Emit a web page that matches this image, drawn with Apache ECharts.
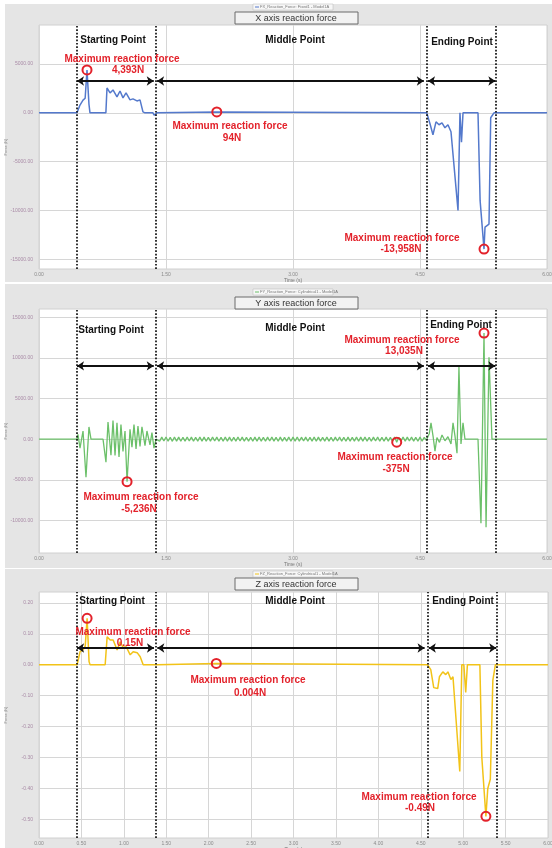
<!DOCTYPE html>
<html>
<head>
<meta charset="utf-8">
<script src="https://cdn.jsdelivr.net/npm/echarts/dist/echarts.min.js"></script>
<style>
html, body { margin: 0; padding: 0; background: #fff; }
#chart { width: 552px; height: 848px; }
</style>
</head>
<body>
<div id="chart"></div>
<script>
// X axis reaction force (N)
var xTime  = [0, 0.449, 0.484, 0.52, 0.545, 0.567, 0.59, 0.602, 0.79, 0.803, 0.839, 0.874, 0.921, 0.957, 0.992, 1.028, 1.075, 1.11, 1.157, 1.193, 1.228, 1.252, 1.346, 1.36, 1.394, 2.1, 4.58, 4.618, 4.653, 4.689, 4.724, 4.76, 4.795, 4.83, 4.866, 4.949, 4.972, 4.99, 5.008, 5.031, 5.185, 5.21, 5.256, 5.268, 5.315, 5.335, 5.374, 6.0];
var xForce = [0, 0, 800, 1300, 1500, 4393, 900, 0, 0, 2550, 2040, 2350, 1630, 2240, 1530, 2040, 1330, 1430, 1220, 1330, 100, 0, 0, -250, 0, 94, 0, -1120, -2240, -920, -1220, -1020, -1530, -1220, -1940, -10000, 0, -3000, 0, 0, 0, -9000, -13958, -11700, -11400, -500, 0, 0];

// Y axis reaction force (N): starting part, middle ripple, ending part
var yStartTime  = [0, 0.449, 0.46, 0.484, 0.52, 0.555, 0.59, 0.614, 0.756, 0.791, 0.815, 0.85, 0.874, 0.898, 0.921, 0.945, 0.968, 0.992, 1.016, 1.04, 1.075, 1.098, 1.122, 1.146, 1.169, 1.193, 1.216, 1.252, 1.275, 1.311, 1.334, 1.358, 1.382];
var yStartForce = [0, 0, 600, -1100, 1000, -4670, 1500, 0, 0, -2830, 2100, -1970, 2300, -2000, 2000, -2200, 1800, -1500, 1000, -5236, 1200, -1000, 1800, -1200, 1600, -900, 1500, -800, 1000, -700, 800, -1100, 0];
var yMidTime = [
  1.400,1.425,1.450,1.475,1.500,1.525,1.550,1.575,1.600,1.625,
  1.650,1.675,1.700,1.725,1.750,1.775,1.800,1.825,1.850,1.875,
  1.900,1.925,1.950,1.975,2.000,2.025,2.050,2.075,2.100,2.125,
  2.150,2.175,2.200,2.225,2.250,2.275,2.300,2.325,2.350,2.375,
  2.400,2.425,2.450,2.475,2.500,2.525,2.550,2.575,2.600,2.625,
  2.650,2.675,2.700,2.725,2.750,2.775,2.800,2.825,2.850,2.875,
  2.900,2.925,2.950,2.975,3.000,3.025,3.050,3.075,3.100,3.125,
  3.150,3.175,3.200,3.225,3.250,3.275,3.300,3.325,3.350,3.375,
  3.400,3.425,3.450,3.475,3.500,3.525,3.550,3.575,3.600,3.625,
  3.650,3.675,3.700,3.725,3.750,3.775,3.800,3.825,3.850,3.875,
  3.900,3.925,3.950,3.975,4.000,4.025,4.050,4.075,4.100,4.125,
  4.150,4.175,4.200,4.225,4.250,4.275,4.300,4.325,4.350,4.375,
  4.400,4.425,4.450,4.475,4.500,4.525,4.550,4.575
];
var yMidForce = [
  240,-260,250,-230,270,-250,230,-270,260,-240,
  250,-260,240,-250,270,-230,250,-260,230,-250,
  260,-240,250,-270,240,-250,260,-230,250,-260,
  230,-250,270,-240,250,-260,240,-250,260,-230,
  250,-270,240,-250,230,-260,250,-240,270,-250,
  240,-260,250,-230,260,-250,240,-270,250,-240,
  230,-250,260,-260,250,-240,270,-250,240,-230,
  250,-260,240,-250,260,-270,250,-240,230,-250,
  260,-250,240,-260,250,-230,270,-250,240,-260,
  250,-240,230,-250,260,-270,250,-240,260,-250,
  240,-260,250,-230,270,-250,240,-260,250,-240,
  230,-260,250,-375,240,-250,260,-240,250,-230,
  260,-250,240,-260,250,-240,230,-150
];
var yEndTime  = [4.582, 4.61, 4.63, 4.655, 4.677, 4.70, 4.73, 4.76, 4.795, 4.83, 4.866, 4.89, 4.913, 4.937, 4.96, 4.984, 5.008, 5.031, 5.185, 5.22, 5.256, 5.28, 5.315, 5.35, 6.0];
var yEndForce = [0, 700, 2000, 300, -1480, 200, -400, 500, -200, 300, -600, 2000, 400, -1720, 8860, -600, 2000, 0, 0, -10330, 13035, -10820, 10080, 0, 0];

// Z axis reaction force (N)
var zTime  = [0, 0.449, 0.484, 0.52, 0.545, 0.567, 0.59, 0.602, 0.78, 0.803, 0.839, 0.874, 0.921, 0.957, 0.992, 1.028, 1.075, 1.11, 1.157, 1.193, 1.228, 1.34, 1.36, 1.394, 2.09, 4.58, 4.618, 4.653, 4.70, 4.72, 4.76, 4.795, 4.82, 4.855, 4.88, 4.96, 4.984, 5.008, 5.03, 5.05, 5.197, 5.22, 5.268, 5.29, 5.32, 5.35, 5.38, 6.0];
var zForce = [0, 0, 0.042, 0.048, 0.06, 0.15, 0.01, 0, 0, 0.09, 0.08, 0.08, 0.048, 0.074, 0.055, 0.058, 0.032, 0.042, 0.039, 0.026, 0, 0, -0.006, 0, 0.004, 0, -0.016, -0.074, -0.077, -0.039, -0.023, -0.032, -0.023, -0.048, -0.039, -0.345, 0, 0, -0.09, 0, 0, -0.3, -0.49, -0.40, -0.37, -0.05, 0, 0];

// tick values
var yTicksX = [-15000, -10000, -5000, 0, 5000];
var yTicksY = [-10000, -5000, 0, 5000, 10000, 15000];
var yTicksZ = [-0.5, -0.4, -0.3, -0.2, -0.1, 0, 0.1, 0.2];

// phase boundaries and arrows (s)
var phaseLines = [0.44, 1.375, 4.58, 5.40];
var arrowFrom = [0.449, 1.395, 4.595];
var arrowTo   = [1.355, 4.545, 5.39];

// maximum reaction force markers
var maxX = [[0.567, 4393], [2.1, 94], [5.256, -13958]];
var maxY = [[5.256, 13035], [1.04, -5236], [4.225, -375]];
var maxZ = [[0.567, 0.15], [2.09, 0.004], [5.268, -0.49]];

function zip(t, v) {
    return t.map(function (x, i) { return [x, v[i]]; });
}

var FONT = '"Liberation Sans", Arial, sans-serif';
var RED = '#e3222b';

function phaseMarks(arrowY, yMin, yMax) {
    var dotted = { type: 'dotted', width: 1.7, color: '#111' };
    var d = phaseLines.map(function (t) {
        return [
            { coord: [t, yMin], symbol: 'none', lineStyle: dotted },
            { coord: [t, yMax], symbol: 'none' }
        ];
    });
    for (var i = 0; i < arrowFrom.length; i++) {
        d.push([{ coord: [arrowFrom[i], arrowY] }, { coord: [arrowTo[i], arrowY] }]);
    }
    return {
        silent: true,
        symbol: ['arrow', 'arrow'],
        symbolSize: 7,
        label: { show: false },
        lineStyle: { type: 'solid', color: '#111', width: 1.8 },
        data: d
    };
}

function rings(list) {
    return {
        silent: true,
        symbol: 'circle',
        symbolSize: 9,
        itemStyle: { color: 'rgba(255,255,255,0)', borderColor: RED, borderWidth: 2 },
        label: { show: false },
        data: list.map(function (c) { return { coord: c }; })
    };
}

function xAx(idx, step) {
    return {
        type: 'value', gridIndex: idx, min: 0, max: 6, interval: step,
        name: 'Time (s)', nameLocation: 'middle', nameGap: 9, nameMoveOverlap: false,
        nameTextStyle: { fontSize: 5, color: '#777', fontFamily: FONT },
        axisLine: { show: false }, axisTick: { show: false },
        axisLabel: { fontSize: 5, color: '#8a8a8a', margin: 3, fontFamily: FONT,
            formatter: function (v) { return v.toFixed(2); } },
        splitLine: { lineStyle: { color: '#d6d6d6', width: 1 } }
    };
}

function yAx(idx, min, max, ticks) {
    return {
        type: 'value', gridIndex: idx, min: min, max: max,
        name: 'Force (N)', nameLocation: 'middle', nameGap: 31, nameMoveOverlap: false,
        nameTextStyle: { fontSize: 4, color: '#888', fontFamily: FONT },
        axisLine: { show: false },
        axisTick: { show: false, customValues: ticks },
        axisLabel: { fontSize: 5, color: '#a98aa6', margin: 6, fontFamily: FONT, customValues: ticks,
            formatter: function (v) { return v.toFixed(2); } },
        splitLine: { lineStyle: { color: '#d6d6d6', width: 1 } }
    };
}

var panels = [
    { top: 4, h: 278, title: 'X axis reaction force', titleY: 12, legend: 'FX_Reaction_Force: Fixed1 - Model1A', legendY: 4, color: '#5479cc' },
    { top: 284, h: 284, title: 'Y axis reaction force', titleY: 297, legend: 'FY_Reaction_Force: Cylindrical1 - Model1A', legendY: 289, color: '#6cc06a' },
    { top: 569, h: 279, title: 'Z axis reaction force', titleY: 578, legend: 'FZ_Reaction_Force: Cylindrical1 - Model1A', legendY: 571, color: '#f2c318' }
];

var blackLabels = [
    [113, 40, 'Starting Point'], [295, 40, 'Middle Point'], [462, 42, 'Ending Point'],
    [111, 330, 'Starting Point'], [295, 328, 'Middle Point'], [461, 325, 'Ending Point'],
    [112, 601, 'Starting Point'], [295, 601, 'Middle Point'], [463, 601, 'Ending Point']
];
var redLabels = [
    [122, 59, 'Maximum reaction force'], [128, 70, '4,393N'],
    [230, 126, 'Maximum reaction force'], [232, 138, '94N'],
    [402, 238, 'Maximum reaction force'], [401, 249, '-13,958N'],
    [402, 340, 'Maximum reaction force'], [404, 351, '13,035N'],
    [141, 497, 'Maximum reaction force'], [139, 509, '-5,236N'],
    [395, 457, 'Maximum reaction force'], [396, 469, '-375N'],
    [133, 632, 'Maximum reaction force'], [130, 643, '0.15N'],
    [248, 680, 'Maximum reaction force'], [250, 693, '0.004N'],
    [419, 797, 'Maximum reaction force'], [420, 808, '-0.49N']
];

var graphics = [];
panels.forEach(function (p) {
    graphics.push({ type: 'rect', z: -10, shape: { x: 5, y: p.top, width: 547, height: p.h },
        style: { fill: '#e5e5e5' } });
    graphics.push({ type: 'rect', z: 50, shape: { x: 235, y: p.titleY, width: 123, height: 12 },
        style: { fill: '#f2f2f2', stroke: '#6a6a6a', lineWidth: 1 } });
    graphics.push({ type: 'text', z: 51, style: { x: 296, y: p.titleY + 6.5, text: p.title,
        font: '9px ' + FONT, fill: '#333', textAlign: 'center', verticalAlign: 'middle' } });
    graphics.push({ type: 'rect', z: 50, shape: { x: 253, y: p.legendY, width: 80, height: 6 },
        style: { fill: '#f7f7f7', stroke: '#b5b5b5', lineWidth: 0.5 } });
    graphics.push({ type: 'line', z: 51, shape: { x1: 255, y1: p.legendY + 3, x2: 259, y2: p.legendY + 3 },
        style: { stroke: p.color, lineWidth: 1 } });
    graphics.push({ type: 'text', z: 51, style: { x: 260, y: p.legendY + 3.2, text: p.legend,
        font: '4px ' + FONT, fill: '#777', verticalAlign: 'middle' } });
});
blackLabels.forEach(function (l) {
    graphics.push({ type: 'text', z: 60, style: { x: l[0], y: l[1], text: l[2],
        font: 'bold 10px ' + FONT, fill: '#111', textAlign: 'center', verticalAlign: 'middle' } });
});
redLabels.forEach(function (l) {
    graphics.push({ type: 'text', z: 60, style: { x: l[0], y: l[1], text: l[2],
        font: 'bold 10px ' + FONT, fill: RED, textAlign: 'center', verticalAlign: 'middle' } });
});

function grid(top, h, w) {
    return { left: 39, top: top, width: w, height: h, show: true, backgroundColor: '#fff',
        borderColor: '#d0d0d0', borderWidth: 1, containLabel: false, outerBoundsMode: 'none' };
}

var option = {
    animation: false,
    backgroundColor: '#fff',
    grid: [grid(25, 244, 508), grid(309, 244, 508), grid(592, 246, 509)],
    xAxis: [xAx(0, 1.5), xAx(1, 1.5), xAx(2, 0.5)],
    yAxis: [
        yAx(0, -16000, 9000, yTicksX),
        yAx(1, -14000, 16000, yTicksY),
        yAx(2, -0.56, 0.235, yTicksZ)
    ],
    graphic: graphics,
    series: [
        {
            name: 'FX', type: 'line', xAxisIndex: 0, yAxisIndex: 0,
            data: zip(xTime, xForce), showSymbol: false, silent: true,
            lineStyle: { color: panels[0].color, width: 1.5 }, itemStyle: { color: panels[0].color },
            markLine: phaseMarks(3260, -16000, 9000), markPoint: rings(maxX)
        },
        {
            name: 'FY', type: 'line', xAxisIndex: 1, yAxisIndex: 1,
            data: zip(yStartTime, yStartForce).concat(zip(yMidTime, yMidForce), zip(yEndTime, yEndForce)),
            showSymbol: false, silent: true,
            lineStyle: { color: panels[1].color, width: 1.3 }, itemStyle: { color: panels[1].color },
            markLine: phaseMarks(9000, -14000, 16000), markPoint: rings(maxY)
        },
        {
            name: 'FZ', type: 'line', xAxisIndex: 2, yAxisIndex: 2,
            data: zip(zTime, zForce), showSymbol: false, silent: true,
            lineStyle: { color: panels[2].color, width: 1.5 }, itemStyle: { color: panels[2].color },
            markLine: phaseMarks(0.054, -0.56, 0.235), markPoint: rings(maxZ)
        }
    ]
};

var myChart = echarts.init(document.getElementById('chart'));
myChart.setOption(option);
</script>
</body>
</html>
